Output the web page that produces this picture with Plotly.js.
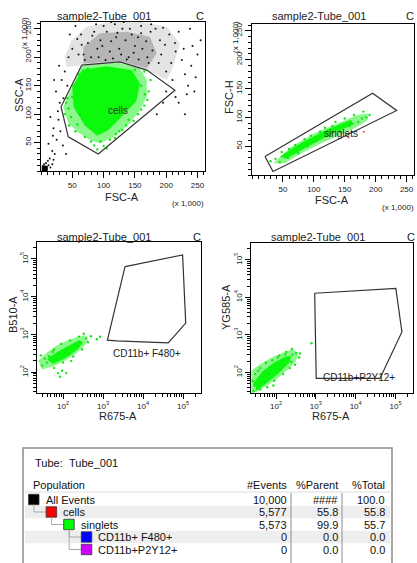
<!DOCTYPE html>
<html><head><meta charset="utf-8">
<script src="https://cdn.plot.ly/plotly-3.0.1.min.js"></script>
<style>html,body{margin:0;padding:0;background:#fff;}#chart{width:417px;height:563px;}</style>
</head><body><div id="chart"></div>
<script>
// ================= DATA =================
// Axis tick labels
const linTickVals = [50, 100, 150, 200, 250];
const linTickText = ['50', '100', '150', '200', '250'];
const logTickVals = [100, 1000, 10000, 100000];
const logTickText = ['10<sup>2</sup>', '10<sup>3</sup>', '10<sup>4</sup>', '10<sup>5</sup>'];

// Plot 1: FSC-A vs SSC-A (x 1,000) — "cells" gate
const p1GateX = [65, 126, 169, 214, 91.5, 43.6, 32, 65];
const p1GateY = [186, 192, 177.5, 142, 30, 60, 113, 186];
const p1BlackOuterX = [41, 65, 126, 169, 201, 211, 222, 201, 158, 110, 73, 49, 38];
const p1BlackOuterY = [183, 186, 192, 177.5, 160, 183, 224, 253.6, 262, 262, 253.6, 230, 201];
const p1BlackInnerX = [67.6, 126, 169, 185, 174, 137, 94, 67.6];
const p1BlackInnerY = [189, 193, 180.5, 207, 236, 245, 242, 218];
const p1BlackDots = [[14,22],[18,35],[12,48],[22,30],[25,55],[20,75],[28,90],[15,95],[30,120],[24,140],[33,160],[38,175],[27,105],[19,62],[35,45],[40,30],[31,70],[42,150],[36,128],[29,185],[21,160],[44,200],[50,215],[46,240],[55,255],[60,205],[64,240],
  [4,4],[6,8],[9,5],[12,10],[8,14],[15,6],[5,12],[18,12],[11,18],[20,20],[7,3],[3,9],
  [80,200],[95,230],[110,210],[130,250],[150,220],[170,200],[190,230],[205,240],[120,235],[140,200],[160,255],[100,255],[85,245],[175,245],[215,210],[225,195],[200,175],[210,160],[230,170],[235,150],[240,185],[188,190],[70,195],[90,215],[145,240],[115,198],
  [220,120],[230,100],[245,140],[250,205],[255,230],[238,250],[200,140],[195,120],[185,100],[215,130],
  [68,205],[75,225],[82,238],[92,200],[98,220],[105,245],[112,228],[118,258],[125,215],[128,205],[135,230],[142,250],[148,208],[155,235],[162,215],[168,228],[172,190],[178,212],[183,250],[192,205],[198,222],[208,190],[214,225],[220,245],[103,195],[137,196],[156,196],[122,243],[88,258],[176,258],[195,252],[160,242],[132,262],[112,262],[65,222],[58,232],[228,215],[242,220],[233,135],[247,165]];
const p1CornerDot = [[6, 4]];
const p1GreenOuterX = [65, 94, 126, 158, 169, 169, 158, 142, 115.5, 94, 78, 62, 43.6, 35.6, 47, 60];
const p1GreenOuterY = [184.5, 189, 190, 180.5, 160, 130.6, 107, 84, 60, 48.7, 54.5, 66, 84, 113, 142, 172];
const p1GreenInnerX = [66, 105, 145, 158, 152, 130, 108, 90, 70, 52, 50];
const p1GreenInnerY = [178, 184, 177, 154, 122, 97, 72, 62, 80, 113, 148];
const p1GreenDots = [[60,170],[52,150],[40,120],[38,100],[45,80],[55,70],[70,60],[85,45],[100,44],[110,55],[125,70],[140,90],[155,100],[165,115],[172,140],[175,160],[165,175],[150,178],[50,130],[62,100],[130,72],[118,58],[90,38],[170,125],[160,150],[75,180],[44,110],[80,52],[148,88],[136,80],[160,108],[166,135],[95,52],[48,95],[58,82],[42,128],[105,40],[120,65]];

// Plot 2: FSC-A vs FSC-H (x 1,000) — "singlets" gate
const p2GateX = [21, 195, 234, 34, 21];
const p2GateY = [32, 142, 112, 6, 32];
const p2GreenOuterX = [34.3, 63.8, 101, 138.8, 171, 187, 187, 171, 149.5, 112, 80, 53];
const p2GreenOuterY = [20.3, 49.2, 72.3, 89.8, 104, 107, 95.5, 84, 72.3, 55, 37.7, 20.3];
const p2GreenInnerX = [45, 80, 120, 160, 165, 130, 95, 55];
const p2GreenInnerY = [32, 56, 78, 96, 88, 72, 52, 28];
const p2GreenDots = [[30,24],[38,28],[48,40],[58,30],[70,52],[75,38],[90,50],[95,68],[105,60],[118,82],[125,68],[135,92],[142,76],[150,98],[158,85],[165,104],[172,92],[180,110],[185,100],[190,104],[60,45],[85,62],[110,75],[130,85],[160,90],[178,98],[45,22],[100,58],[140,84]];
const p2RedDots = [[181,75],[156,65]];

// Plot 3: R675-A vs B510-A — "CD11b+ F480+" gate
const p3GateX = [3550, 97700, 117000, 42700, 2190, 1290, 3550];
const p3GateY = [63000, 128000, 2000, 600, 680, 710, 63000];
const p3GreenOuterX = [24, 38.9, 69.2, 123, 219, 355, 420, 330, 200, 112, 57.5, 30];
const p3GreenOuterY = [200, 330, 500, 680, 850, 960, 700, 470, 300, 200, 145, 118];
const p3GreenInnerX = [40, 70, 140, 250, 320, 220, 110, 56];
const p3GreenInnerY = [220, 340, 500, 700, 620, 380, 230, 165];
const p3GreenDots = [[30,150],[45,260],[60,400],[90,560],[150,700],[250,880],[380,800],[420,620],[300,400],[180,260],[100,180],[60,130],[35,230],[80,300],[130,420],[200,560],[260,620],[110,340],[70,220],[140,300],[500,900],[700,750],[95,110],[75,95],[40,180],[28,280],[330,1050],[240,480],[160,200],[55,350],[850,870],[84,76],[120,95]];

// Plot 4: R675-A vs YG585-A — "CD11b+P2Y12+" gate
const p4GateX = [933, 102000, 145000, 40700, 1020, 933];
const p4GateY = [12900, 17400, 1200, 69, 69, 12900];
const p4GreenOuterX = [24, 39.4, 77.6, 151, 269, 370, 300, 182, 102, 57.5, 35.5, 24];
const p4GreenOuterY = [110, 165, 250, 340, 420, 290, 185, 110, 66, 43, 32, 27];
const p4GreenInnerX = [27, 45, 85, 158, 240, 215, 120, 66, 34];
const p4GreenInnerY = [52, 105, 175, 255, 280, 180, 98, 58, 34];
const p4GreenDots = [[26,60],[30,90],[40,130],[55,180],[80,210],[120,280],[180,350],[250,420],[320,330],[380,250],[300,160],[220,130],[150,90],[90,60],[60,40],[40,35],[28,45],[70,140],[100,150],[140,200],[200,230],[260,300],[45,75],[65,95],[35,110],[110,250],[170,300],[400,320],[240,190],[130,120],[85,45],[50,55],[27,32],[33,36],[776,596]];

// Population hierarchy table
const popNames = ['All Events', 'cells', 'singlets', 'CD11b+ F480+', 'CD11b+P2Y12+'];
const popDepth = [0, 1, 2, 3, 3];
const popColors = ['#000000', '#ff0000', '#00ff00', '#0000ff', '#cc00ff'];
const popEvents = ['10,000', '5,577', '5,573', '0', '0'];
const popParent = ['####', '55.8', '99.9', '0.0', '0.0'];
const popTotal = ['100.0', '55.8', '55.7', '0.0', '0.0'];

// ================= DRAWING =================
const W = 417, H = 563;
const FONT = 'Liberation Sans, Arial, sans-serif';
const fx = p => p / W, fy = p => 1 - p / H;

function poly(xs, ys, xa, ya, fill) {
  return {type:'scatter', x: xs, y: ys, xaxis: xa, yaxis: ya, mode:'none', fill:'toself', fillcolor: fill, hoverinfo:'skip', showlegend:false};
}
function dots(pairs, xa, ya, color, size, symbol) {
  return {type:'scatter', x: pairs.map(p => p[0]), y: pairs.map(p => p[1]), xaxis: xa, yaxis: ya, mode:'markers',
    marker:{color: color, size: size, symbol: symbol || 'circle', line:{width:0}}, hoverinfo:'skip', showlegend:false};
}
function gate(xs, ys, xa, ya) {
  return {type:'scatter', x: xs, y: ys, xaxis: xa, yaxis: ya, mode:'lines', line:{color:'#333', width:1.2}, hoverinfo:'skip', showlegend:false};
}

const GREEN_LIGHT = 'rgba(20,240,20,0.5)';
const GREEN_CORE = 'rgba(0,250,0,0.92)';
const GREEN_DOT = '#14e614';

const traces = [
  poly(p1BlackOuterX, p1BlackOuterY, 'x', 'y', 'rgba(0,0,0,0.11)'),
  poly(p1BlackInnerX, p1BlackInnerY, 'x', 'y', 'rgba(0,0,0,0.2)'),
  dots(p1BlackDots, 'x', 'y', '#111', 2),
  dots(p1CornerDot, 'x', 'y', '#000', 6, 'square'),
  poly(p1GreenOuterX, p1GreenOuterY, 'x', 'y', GREEN_LIGHT),
  poly(p1GreenInnerX, p1GreenInnerY, 'x', 'y', GREEN_CORE),
  dots(p1GreenDots, 'x', 'y', GREEN_DOT, 2.4),
  gate(p1GateX, p1GateY, 'x', 'y'),

  poly(p2GreenOuterX, p2GreenOuterY, 'x2', 'y2', GREEN_LIGHT),
  poly(p2GreenInnerX, p2GreenInnerY, 'x2', 'y2', GREEN_CORE),
  dots(p2GreenDots, 'x2', 'y2', GREEN_DOT, 2.4),
  dots(p2RedDots, 'x2', 'y2', '#ff5577', 2.2),
  gate(p2GateX, p2GateY, 'x2', 'y2'),

  poly(p3GreenOuterX, p3GreenOuterY, 'x3', 'y3', GREEN_LIGHT),
  poly(p3GreenInnerX, p3GreenInnerY, 'x3', 'y3', GREEN_CORE),
  dots(p3GreenDots, 'x3', 'y3', GREEN_DOT, 2.4),
  gate(p3GateX, p3GateY, 'x3', 'y3'),

  poly(p4GreenOuterX, p4GreenOuterY, 'x4', 'y4', GREEN_LIGHT),
  poly(p4GreenInnerX, p4GreenInnerY, 'x4', 'y4', GREEN_CORE),
  dots(p4GreenDots, 'x4', 'y4', GREEN_DOT, 2.4),
  gate(p4GateX, p4GateY, 'x4', 'y4')
];

// minor ticks for log axes (decade structure)
const logMinor = [];
[10, 100, 1000, 10000, 100000].forEach(d => { for (let k = 2; k <= 9; k++) logMinor.push(k * d); });

const tickFont = {family: FONT, size: 8, color: '#222'};
function baseAxis(extra) {
  return Object.assign({showline:true, mirror:true, linecolor:'#000', linewidth:1, showgrid:false, zeroline:false,
    ticks:'outside', ticklen:6, tickwidth:1, tickcolor:'#000', tickfont: tickFont, fixedrange:true,
    ticklabeloverflow:'allow', automargin:false}, extra);
}
function linAxis(d0, d1, anchor, isY) {
  return baseAxis({domain:[d0, d1], anchor: anchor, range:[0, 262], tickmode:'array', tickvals: linTickVals, ticktext: linTickText,
    tickangle: isY ? -90 : 0, minor:{dtick:10, tick0:0, ticks:'outside', ticklen:3, tickcolor:'#000', tickwidth:1}});
}
function logAxis(d0, d1, anchor, range, isY) {
  return baseAxis({domain:[d0, d1], anchor: anchor, type:'log', range: range, tickmode:'array', tickvals: logTickVals, ticktext: logTickText,
    tickangle: isY ? -90 : 0, ticklen:5, minor:{tickmode:'array', tickvals: logMinor, ticks:'outside', ticklen:3, tickcolor:'#000', tickwidth:1}});
}

const layout = {
  width: W, height: H, margin:{l:0, r:0, t:0, b:0}, paper_bgcolor:'#fff', plot_bgcolor:'#fff', showlegend:false,
  font:{family: FONT, color:'#222'},
  xaxis: linAxis(fx(41), fx(205), 'y', false),
  yaxis: linAxis(fy(171), fy(22), 'x', true),
  xaxis2: linAxis(fx(252), fx(414), 'y2', false),
  yaxis2: linAxis(fy(175), fy(24), 'x2', true),
  xaxis3: logAxis(fx(37), fx(201), 'y3', [1.35, 5.45], false),
  yaxis3: logAxis(fy(393), fy(242), 'x3', [1.45, 5.45], true),
  xaxis4: logAxis(fx(251), fx(413), 'y4', [1.37, 5.44], false),
  yaxis4: logAxis(fy(393), fy(243), 'x4', [1.45, 5.45], true),
  annotations: [],
  shapes: []
};

const A = layout.annotations, S = layout.shapes;
function txt(text, px, py, size, opts) {
  A.push(Object.assign({text: text, x: fx(px), y: fy(py), xref:'paper', yref:'paper', xanchor:'center', yanchor:'middle',
    showarrow:false, font:{family: FONT, size: size, color:'#222'}}, opts || {}));
}
// plot titles
[[104,16],[319,16],[104,237],[318,237]].forEach(p => txt('sample2-Tube_001', p[0], p[1], 11));
[[200,16],[410,16],[197,237],[411,237]].forEach(p => txt('C', p[0], p[1], 11));
// axis titles
txt('FSC-A', 122, 197, 11); txt('(x 1,000)', 188, 203, 8);
txt('SSC-A', 19, 95, 11, {textangle:-90}); txt('(x 1,000)', 24, 33, 8, {textangle:-90});
txt('FSC-A', 332, 200, 11); txt('(x 1,000)', 398, 207, 8);
txt('FSC-H', 229, 97, 11, {textangle:-90}); txt('(x 1,000)', 235, 37, 8, {textangle:-90});
txt('R675-A', 118, 416, 11); txt('B510-A', 13, 315, 11, {textangle:-90});
txt('R675-A', 331, 416, 11); txt('YG585-A', 226, 307, 11, {textangle:-90});
// gate labels (data coordinates; log axes use log10 units)
A.push({text:'cells', x:123, y:107, xref:'x', yref:'y', showarrow:false, font:{family:FONT, size:10, color:'#333'}});
A.push({text:'singlets', x:144, y:72, xref:'x2', yref:'y2', showarrow:false, font:{family:FONT, size:10, color:'#222'}});
A.push({text:'CD11b+ F480+', x:Math.log10(12300), y:Math.log10(316), xref:'x3', yref:'y3', showarrow:false, font:{family:FONT, size:10, color:'#222'}});
A.push({text:'CD11b+P2Y12+', x:Math.log10(12400), y:Math.log10(74), xref:'x4', yref:'y4', showarrow:false, font:{family:FONT, size:10, color:'#222'}});

// ---- population table ----
function rect(x0, y0, x1, y1, fill, line, lw) {
  S.push({type:'rect', xref:'paper', yref:'paper', x0: fx(x0), x1: fx(x1), y0: fy(y1), y1: fy(y0),
    fillcolor: fill, line:{color: line || 'rgba(0,0,0,0)', width: lw || 0}});
}
function seg(x0, y0, x1, y1, color, w, dash) {
  S.push({type:'line', xref:'paper', yref:'paper', x0: fx(x0), x1: fx(x1), y0: fy(y0), y1: fy(y1), line:{color: color, width: w, dash: dash || 'solid'}});
}
const TF = {family:FONT, size:11, color:'#111'};
rect(23, 448, 392, 575, '#ffffff', '#8c8c8c', 1.5);
const rowY0 = 499.5, rowH = 12.5;
const rowY = popNames.map((_, i) => rowY0 + i * rowH);
popNames.forEach((_, i) => { if (i % 2 === 1) rect(25, rowY[i] - 6.2, 390, rowY[i] + 6.2, '#eeeeee'); });
seg(25, 492, 390, 492, '#dcdcdc', 1);
seg(291, 493, 291, 563, '#8c8c8c', 1);
seg(342, 493, 342, 563, '#8c8c8c', 1);
txt('Tube:', 33, 463, 11, {xanchor:'left', font:TF});
txt('Tube_001', 67, 463, 11, {xanchor:'left', font:TF});
txt('Population', 31, 485, 11, {xanchor:'left', font:TF});
txt('#Events', 289, 485, 11, {xanchor:'right', font:TF});
txt('%Parent', 340, 485, 11, {xanchor:'right', font:TF});
txt('%Total', 387, 485, 11, {xanchor:'right', font:TF});
const sqX = d => 28.5 + d * 17.6;
popNames.forEach((name, i) => {
  const d = popDepth[i], x = sqX(d), y = rowY[i];
  if (d > 0) {
    let p = i - 1; while (popDepth[p] >= d) p--;
    const px = sqX(popDepth[p]) + 5.5;
    seg(px, rowY[p] + 5.2, px, y, '#a8a8a8', 1);
    seg(px, y, x, y, '#a8a8a8', 1);
  }
  rect(x, y - 5.2, x + 10.5, y + 5.2, popColors[i], '#333', 0.8);
  txt(name, x + 15, y, 11, {xanchor:'left', font:TF});
  txt(popEvents[i], 289, y, 11, {xanchor:'right', font:TF});
  txt(popParent[i], 340, y, 11, {xanchor:'right', font:TF});
  txt(popTotal[i], 387, y, 11, {xanchor:'right', font:TF});
});

Plotly.newPlot('chart', traces, layout, {staticPlot:true, displayModeBar:false});
</script></body></html>
